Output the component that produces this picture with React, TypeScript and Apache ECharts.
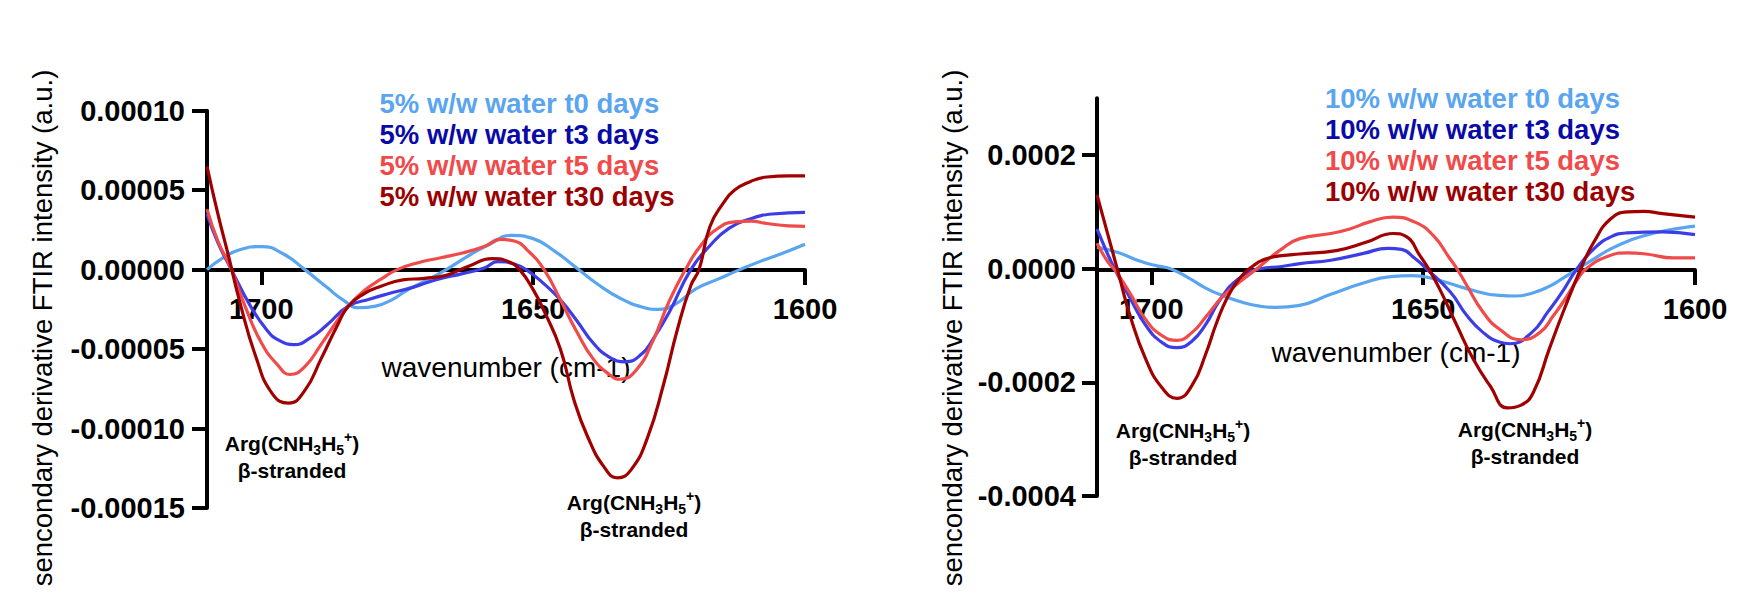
import React, { useEffect, useRef } from "react";
import * as echarts from "echarts";

const FONT = "'Liberation Sans', Arial, Helvetica, sans-serif";

// Unit multipliers for the values
const UNIT_LEFT = 1e-5;
const UNIT_RIGHT = 1e-4;

// x tick labels (wavenumber, cm-1)
const xTicks = [1700, 1650, 1600];
// y tick labels
const leftYTicks = [-0.00015, -0.0001, -0.00005, 0, 0.00005, 0.0001];
const rightYTicks = [-0.0004, -0.0002, 0, 0.0002];

const leftNames = [
  "5% w/w water t0 days",
  "5% w/w water t3 days",
  "5% w/w water t5 days",
  "5% w/w water t30 days",
];
const rightNames = [
  "10% w/w water t0 days",
  "10% w/w water t3 days",
  "10% w/w water t5 days",
  "10% w/w water t30 days",
];

const lineColors = ["#5aa5ef", "#3d3de6", "#f04a4a", "#a00000"];
const legendTextColors = ["#5aa5ef", "#0a0aa8", "#f04a4a", "#9a0000"];

// ---- Left panel (5% w/w water), values in units of 1e-5 ----
const left_t0: [number, number][] = [
  [1710, 0], [1707, 0.75], [1704, 1.25], [1700, 1.45], [1696, 1.0], [1692, 0.0],
  [1688, -1.1], [1685, -1.9], [1682, -2.4], [1679, -2.3], [1676, -1.9], [1673, -1.25],
  [1670, -0.75], [1666, 0.0], [1662, 0.85], [1658, 1.6], [1654, 2.15], [1650, 1.95],
  [1646, 1.15], [1642, 0.1], [1638, -0.95], [1634, -1.8], [1630, -2.35], [1627, -2.5],
  [1624, -2.2], [1620, -1.2], [1616, -0.6], [1612, 0.0], [1608, 0.55], [1604, 1.05],
  [1600, 1.6],
];
const left_t3: [number, number][] = [
  [1710, 3.5], [1708, 1.7], [1705.5, 0], [1702, -2.3], [1699, -3.8], [1697, -4.4],
  [1694, -4.72], [1691, -4.3], [1688, -3.5], [1684, -2.3], [1680, -1.85], [1677, -1.55],
  [1672, -1.1], [1668, -0.65], [1663, -0.25], [1659, 0.1], [1656.5, 0.5], [1653.5, 0.35],
  [1651.3, 0], [1648, -0.9], [1645, -1.9], [1642, -3.2], [1639, -4.6], [1636, -5.5],
  [1633, -5.8], [1630, -5.3], [1628, -4.4], [1625, -2.7], [1621, 0], [1617.5, 1.5],
  [1614, 2.6], [1610, 3.2], [1606, 3.5], [1600, 3.6],
];
const left_t5: [number, number][] = [
  [1710, 3.8], [1708, 1.8], [1705.5, 0], [1703, -2.3], [1700, -4.6], [1697, -6.0],
  [1694.7, -6.6], [1692, -6.1], [1689, -4.7], [1686, -3.2], [1684, -2.3], [1681, -1.3],
  [1678, -0.6], [1675, 0], [1671, 0.45], [1667, 0.75], [1663, 1.05], [1659, 1.45],
  [1656, 1.9], [1653.5, 1.8], [1651, 1.2], [1648, 0], [1645, -1.9], [1642, -3.9],
  [1639, -5.6], [1636, -6.6], [1634, -6.9], [1631, -6.3], [1628, -4.5], [1625, -2.0],
  [1622, 0], [1619, 1.6], [1616, 2.6], [1613, 3.0], [1610, 3.05], [1607, 2.9],
  [1603, 2.75], [1600, 2.72],
];
const left_t30: [number, number][] = [
  [1710, 6.5], [1708, 3.5], [1706, 0.8], [1704, -2.0], [1701, -5.5], [1698, -7.8],
  [1695, -8.4], [1692, -7.6], [1689, -5.6], [1686, -3.5], [1684, -2.3], [1681, -1.5],
  [1678, -1.05], [1674, -0.65], [1670, -0.55], [1666, -0.35], [1662, 0.2], [1657.5, 0.69],
  [1654.5, 0.5], [1652.5, 0], [1650, -1.26], [1648, -2.6], [1645, -5.0], [1642.5, -8.2],
  [1640, -10.5], [1637, -12.4], [1634.5, -13.1], [1632, -12.6], [1629, -10.6], [1626, -7.2],
  [1623.5, -3.8], [1621, -1.0], [1619.5, 0], [1617.5, 2.7], [1615, 4.2], [1613, 5.0],
  [1610, 5.55], [1607, 5.83], [1603, 5.9], [1600, 5.9],
];

// ---- Right panel (10% w/w water), values in units of 1e-4 ----
const right_t0: [number, number][] = [
  [1710, 0.38], [1706, 0.28], [1702, 0.13], [1699, 0.05], [1696.5, 0], [1693, -0.17],
  [1690, -0.34], [1687, -0.47], [1683, -0.6], [1680, -0.66], [1677, -0.68], [1673, -0.65],
  [1667, -0.45], [1661, -0.25], [1656, -0.14], [1652, -0.12], [1648, -0.18], [1642, -0.35],
  [1636, -0.47], [1633, -0.48], [1630, -0.43], [1627, -0.32], [1624.5, -0.18], [1621.5, 0],
  [1618.5, 0.18], [1615.5, 0.35], [1612, 0.5], [1609, 0.59], [1606, 0.66], [1603, 0.71],
  [1600, 0.75],
];
const right_t3: [number, number][] = [
  [1710, 0.7], [1708, 0.25], [1706.5, -0.05], [1704, -0.5], [1701, -1.0], [1698, -1.3],
  [1695.3, -1.39], [1692.5, -1.27], [1690, -0.98], [1687.4, -0.55], [1684, -0.18], [1680, 0],
  [1676, 0.04], [1672.7, 0.09], [1667, 0.15], [1661, 0.27], [1656.5, 0.36], [1654, 0.34],
  [1651.5, 0.18], [1649.4, 0], [1645, -0.41], [1642, -0.82], [1639, -1.12], [1636, -1.29],
  [1634, -1.32], [1630, -1.12], [1627, -0.75], [1624.5, -0.42], [1621.7, 0], [1618.6, 0.35],
  [1615.5, 0.56], [1612.5, 0.63], [1606, 0.65], [1600, 0.6],
];
const right_t5: [number, number][] = [
  [1710, 0.45], [1708, 0.12], [1706.5, -0.05], [1704, -0.42], [1701, -0.9], [1698, -1.18],
  [1695.3, -1.26], [1692.5, -1.12], [1690, -0.85], [1687, -0.5], [1684, -0.25], [1680.6, 0],
  [1676, 0.35], [1672.7, 0.53], [1667, 0.62], [1663.5, 0.7], [1660, 0.82], [1655.6, 0.91],
  [1651.5, 0.82], [1648.2, 0.59], [1645.1, 0.18], [1643.8, 0], [1642, -0.29], [1639, -0.76],
  [1636, -1.06], [1632, -1.25], [1628.5, -1.12], [1626, -0.82], [1624, -0.55], [1621.7, -0.2],
  [1620, 0], [1616, 0.22], [1612.4, 0.28], [1609, 0.26], [1604, 0.19], [1600, 0.19],
];
const right_t30: [number, number][] = [
  [1710, 1.3], [1708, 0.6], [1706, -0.1], [1704, -0.8], [1701, -1.6], [1698, -2.1],
  [1695.3, -2.28], [1692.5, -2.05], [1690, -1.5], [1688, -0.95], [1686, -0.5], [1684, -0.2],
  [1682, 0], [1679, 0.17], [1676, 0.23], [1672.7, 0.26], [1666, 0.32], [1660.4, 0.47],
  [1655.5, 0.62], [1653, 0.56], [1650.6, 0.23], [1649, 0], [1647, -0.35], [1643.8, -1.0],
  [1640.8, -1.59], [1637.7, -2.06], [1634.5, -2.45], [1632, -2.4], [1629.7, -2.17], [1626.8, -1.41],
  [1624, -0.7], [1621, 0], [1618.6, 0.47], [1615.5, 0.88], [1612.4, 1.0], [1609.4, 1.01],
  [1606, 0.97], [1600, 0.91],
];

const leftSeries = [left_t0, left_t3, left_t5, left_t30];
const rightSeries = [right_t0, right_t3, right_t5, right_t30];

const yTitle = "sencondary derivative FTIR intensity (a.u.)";
const xTitle = "wavenumber (cm-1)";
const annotationText =
  "{m|Arg(CNH}{sub|3}{m|H}{sub|5}{sup|+}{m|)}\n{m|β-stranded}";

// Panel layout (pixels)
const LEFT_GRID = { left: 207, top: 110.7, width: 598, height: 397.3 };
const RIGHT_GRID = { left: 1097, top: 98.3, width: 598, height: 397.7 };
const ZERO_Y = 270; // both x axes are drawn along y = 0

function fmt(v: number, digits: number) {
  if (Math.abs(v) < 1e-12) v = 0;
  return v.toFixed(digits);
}

function makeXAxis(gridIndex: number, grid: { top: number; height: number }, nameGap: number) {
  const offset = ZERO_Y - (grid.top + grid.height); // negative: moves the axis up to y = 0
  return {
    type: "value",
    gridIndex,
    position: "bottom",
    offset,
    min: 1600,
    max: 1710,
    inverse: true,
    name: xTitle,
    nameLocation: "middle",
    nameGap,
    nameMoveOverlap: false,
    nameTextStyle: { fontSize: 28, color: "#000", fontFamily: FONT, verticalAlign: "top", lineHeight: 28 },
    axisLine: { show: true, onZero: false, lineStyle: { color: "#000", width: 4 } },
    axisTick: {
      show: true,
      length: 15,
      customValues: xTicks,
      lineStyle: { color: "#000", width: 4 },
    },
    axisLabel: {
      show: true,
      customValues: xTicks,
      margin: 24,
      fontSize: 29,
      fontWeight: "bold",
      color: "#000",
      fontFamily: FONT,
      formatter: (v: number) => String(v),
    },
    splitLine: { show: false },
  };
}

function makeYAxis(
  gridIndex: number,
  min: number,
  max: number,
  ticks: number[],
  digits: number,
  margin: number
) {
  return {
    type: "value",
    gridIndex,
    min,
    max,
    axisLine: { show: true, onZero: false, lineStyle: { color: "#000", width: 4 } },
    axisTick: {
      show: true,
      length: 15,
      customValues: ticks,
      lineStyle: { color: "#000", width: 4 },
    },
    axisLabel: {
      show: true,
      customValues: ticks,
      margin,
      fontSize: 29,
      fontWeight: "bold",
      color: "#000",
      fontFamily: FONT,
      formatter: (v: number) => fmt(v, digits),
    },
    splitLine: { show: false },
  };
}

function makeLegend(names: string[], left: number, top: number) {
  return {
    orient: "vertical",
    left,
    top,
    padding: 0,
    itemWidth: 0,
    itemHeight: 0,
    itemGap: 0,
    icon: "rect",
    selectedMode: false,
    textStyle: {
      fontSize: 27.5,
      fontWeight: "bold",
      fontFamily: FONT,
      lineHeight: 31,
    },
    data: names.map((n, i) => ({ name: n, textStyle: { color: legendTextColors[i] } })),
  };
}

const richStyles = {
  m: { fontSize: 21, fontWeight: "bold", fontFamily: FONT, lineHeight: 27, fill: "#000" },
  sub: {
    fontSize: 14,
    fontWeight: "bold",
    fontFamily: FONT,
    lineHeight: 14,
    verticalAlign: "bottom",
    fill: "#000",
  },
  sup: {
    fontSize: 14,
    fontWeight: "bold",
    fontFamily: FONT,
    lineHeight: 14,
    verticalAlign: "top",
    fill: "#000",
  },
};

function annotation(x: number, y: number) {
  return {
    type: "text",
    x,
    y,
    z: 100,
    style: {
      text: annotationText,
      rich: richStyles,
      align: "center",
      verticalAlign: "middle",
    },
  };
}

function yTitleGraphic(x: number, y: number) {
  return {
    type: "text",
    x,
    y,
    rotation: Math.PI / 2,
    style: {
      text: yTitle,
      fontSize: 27.5,
      fontFamily: FONT,
      fill: "#000",
      align: "center",
      verticalAlign: "middle",
    },
  };
}

export default function App() {
  const ref = useRef<HTMLDivElement>(null);

  useEffect(() => {
    if (!ref.current) return;
    const chart = echarts.init(ref.current, undefined, { renderer: "svg" });

    const series: any[] = [];
    leftSeries.forEach((pts, i) => {
      series.push({
        name: leftNames[i],
        type: "line",
        xAxisIndex: 0,
        yAxisIndex: 0,
        data: pts.map(([w, v]) => [w, v * UNIT_LEFT]),
        smooth: 0.5,
        showSymbol: false,
        symbol: "none",
        lineStyle: { color: lineColors[i], width: 3.2 },
        itemStyle: { color: lineColors[i] },
        z: 2 + i,
      });
    });
    rightSeries.forEach((pts, i) => {
      series.push({
        name: rightNames[i],
        type: "line",
        xAxisIndex: 1,
        yAxisIndex: 1,
        data: pts.map(([w, v]) => [w, v * UNIT_RIGHT]),
        smooth: 0.5,
        showSymbol: false,
        symbol: "none",
        lineStyle: { color: lineColors[i], width: 3.2 },
        itemStyle: { color: lineColors[i] },
        z: 2 + i,
      });
    });

    chart.setOption({
      animation: false,
      backgroundColor: "#ffffff",
      textStyle: { fontFamily: FONT },
      grid: [
        { ...LEFT_GRID, containLabel: false },
        { ...RIGHT_GRID, containLabel: false },
      ],
      xAxis: [makeXAxis(0, LEFT_GRID, 83), makeXAxis(1, RIGHT_GRID, 68)],
      yAxis: [
        makeYAxis(0, -0.00015, 0.0001, leftYTicks, 5, 22),
        makeYAxis(1, -0.0004, 0.0003, rightYTicks, 4, 21),
      ],
      legend: [makeLegend(leftNames, 374.5, 87.5), makeLegend(rightNames, 1320, 82.8)],
      graphic: [
        yTitleGraphic(42.5, 328),
        yTitleGraphic(952.5, 328),
        annotation(292, 456.5),
        annotation(634, 516),
        annotation(1183, 444),
        annotation(1525, 443),
      ],
      series,
    });

    return () => {
      chart.dispose();
    };
  }, []);

  return (
    <div
      ref={ref}
      style={{
        position: "fixed",
        left: 0,
        top: 0,
        width: 1744,
        height: 596,
        background: "#fff",
      }}
    />
  );
}
